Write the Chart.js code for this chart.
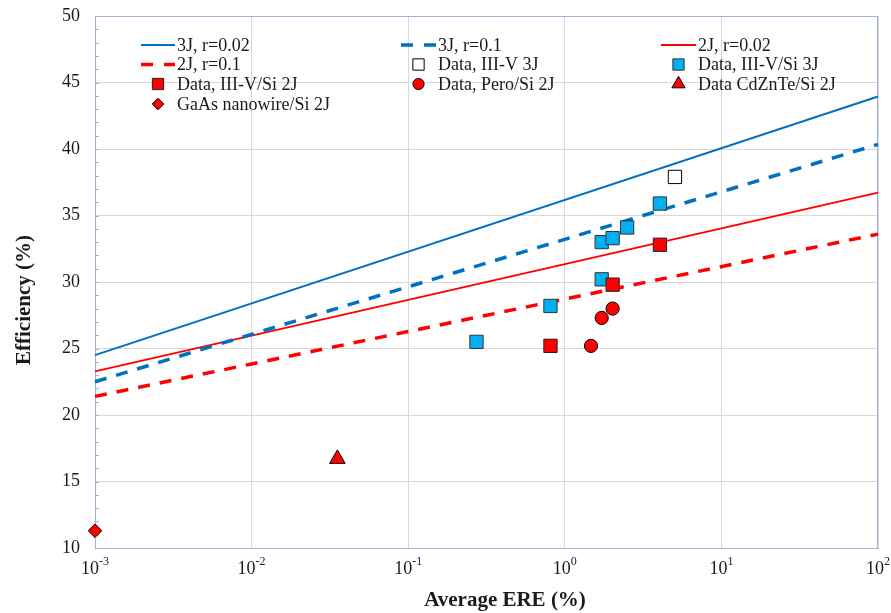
<!DOCTYPE html>
<html>
<head>
<meta charset="utf-8">
<script src="https://cdn.jsdelivr.net/npm/chart.js@4.4.1/dist/chart.umd.min.js"></script>
<style>
  html, body { margin: 0; padding: 0; background: #fff; }
  #wrap { width: 891px; height: 613px; position: relative; }
</style>
</head>
<body>
<div id="wrap"><canvas id="c" width="891" height="613"></canvas></div>
<script>
// Average ERE (%) on a log axis, efficiency (%) on a linear axis
const xDecades = [-3, -2, -1, 0, 1, 2];
const yTicks = [10, 15, 20, 25, 30, 35, 40, 45, 50];

// Modelled efficiency limits (end points at ERE = 1e-3 % and 1e2 %)
const modelEre = [0.001, 100];
const eff3J_r002 = [24.5, 43.95];
const eff3J_r01 = [22.5, 40.35];
const eff2J_r002 = [23.28, 36.72];
const eff2J_r01 = [21.4, 33.6];

// Measured devices
const iii_v_3J_ere = [5.05];
const iii_v_3J_eff = [37.9];
const iii_vSi_3J_ere = [0.273, 0.81, 1.72, 1.72, 2.02, 2.50, 4.05];
const iii_vSi_3J_eff = [25.5, 28.2, 30.2, 33.0, 33.3, 34.1, 35.9];
const iii_vSi_2J_ere = [0.81, 2.02, 4.05];
const iii_vSi_2J_eff = [25.2, 29.8, 32.8];
const peroSi_2J_ere = [1.47, 1.72, 2.02];
const peroSi_2J_eff = [25.2, 27.3, 28.0];
const cdZnTeSi_2J_ere = [0.0353];
const cdZnTeSi_2J_eff = [16.7];
const gaAsNwSi_2J_ere = [0.001];
const gaAsNwSi_2J_eff = [11.3];

const BLUE = '#0070c0';
const RED = '#ff0000';
const CYAN = '#00b0f0';
const AXIS = '#9db4d6';
const GRID = '#d9d9d9';
const TEXT = '#1a1a1a';
const FONT = '"Liberation Serif", "Times New Roman", serif';

const pts = (xs, ys) => xs.map((x, i) => ({ x: x, y: ys[i] }));

function lineSet(label, ys, color, dashed) {
  return {
    label, data: pts(modelEre, ys), showLine: true, borderColor: color,
    borderWidth: dashed ? 3.5 : 2, borderDash: dashed ? [12, 10] : [],
    pointRadius: 0, fill: false, order: 10, clip: false,
    legendKind: 'line'
  };
}
function markerSet(label, xs, ys, style, radius, fill, stroke) {
  return {
    label, data: pts(xs, ys), showLine: false, pointStyle: style,
    pointRadius: radius, pointHoverRadius: radius, backgroundColor: fill,
    borderColor: stroke, borderWidth: 1, order: 0, clip: false,
    legendKind: 'marker'
  };
}

const datasets = [
  lineSet('3J, r=0.02', eff3J_r002, BLUE, false),
  lineSet('3J, r=0.1', eff3J_r01, BLUE, true),
  lineSet('2J, r=0.02', eff2J_r002, RED, false),
  lineSet('2J, r=0.1', eff2J_r01, RED, true),
  markerSet('GaAs nanowire/Si 2J', gaAsNwSi_2J_ere, gaAsNwSi_2J_eff, 'rectRot', 6.8, RED, '#000'),
  markerSet('Data CdZnTe/Si 2J', cdZnTeSi_2J_ere, cdZnTeSi_2J_eff, 'triangle', 9, RED, '#000'),
  markerSet('Data, Pero/Si 2J', peroSi_2J_ere, peroSi_2J_eff, 'circle', 6.6, RED, '#000'),
  markerSet('Data, III-V/Si 2J', iii_vSi_2J_ere, iii_vSi_2J_eff, 'rect', 9.4, RED, '#222'),
  markerSet('Data, III-V/Si 3J', iii_vSi_3J_ere, iii_vSi_3J_eff, 'rect', 9.4, CYAN, '#333'),
  markerSet('Data, III-V 3J', iii_v_3J_ere, iii_v_3J_eff, 'rect', 9.4, '#ffffff', '#000')
];

// Legend grid: three columns, four rows, in reading order
const legendOrder = [
  '3J, r=0.02', '3J, r=0.1', '2J, r=0.02',
  '2J, r=0.1', 'Data, III-V 3J', 'Data, III-V/Si 3J',
  'Data, III-V/Si 2J', 'Data, Pero/Si 2J', 'Data CdZnTe/Si 2J',
  'GaAs nanowire/Si 2J'
];
const legendCols = [{ x0: 141, x1: 175 }, { x0: 401, x1: 436 }, { x0: 661, x1: 696 }];
const legendRows = [45, 64.5, 84, 104];

const frameAndLegend = {
  id: 'frameAndLegend',
  beforeDatasetsDraw(chart) {
    const { ctx, chartArea: a } = chart;
    const y = chart.scales.y;
    ctx.save();
    // minor ticks along the efficiency axis, pointing inward
    ctx.strokeStyle = AXIS;
    ctx.lineWidth = 1;
    ctx.beginPath();
    for (let v = y.min + 1; v < y.max; v++) {
      const py = Math.round(y.getPixelForValue(v)) + 0.5;
      ctx.moveTo(a.left, py);
      ctx.lineTo(a.left + 4, py);
    }
    ctx.stroke();
    // top and right edges of the plot frame
    ctx.beginPath();
    ctx.moveTo(a.left, a.top + 0.5);
    ctx.lineTo(a.right - 0.5, a.top + 0.5);
    ctx.lineTo(a.right - 0.5, a.bottom);
    ctx.stroke();
    ctx.restore();
  },
  afterDraw(chart) {
    const { ctx, chartArea: a } = chart;
    const x = chart.scales.x;
    ctx.save();
    ctx.fillStyle = TEXT;
    // decade labels with superscript exponents
    xDecades.forEach(e => {
      const px = x.getPixelForValue(Math.pow(10, e));
      const base = '10', sup = String(e);
      ctx.font = '18px ' + FONT;
      const wb = ctx.measureText(base).width;
      ctx.font = '12px ' + FONT;
      const ws = ctx.measureText(sup).width;
      const left = px - (wb + ws) / 2;
      ctx.textBaseline = 'alphabetic';
      ctx.textAlign = 'left';
      ctx.font = '18px ' + FONT;
      ctx.fillText(base, left, a.bottom + 26);
      ctx.font = '12px ' + FONT;
      ctx.fillText(sup, left + wb, a.bottom + 17);
    });
    // axis titles
    ctx.font = 'bold 21px ' + FONT;
    ctx.textAlign = 'center';
    ctx.textBaseline = 'middle';
    ctx.fillText('Average ERE (%)', 505, 601);
    ctx.save();
    ctx.translate(25, 300);
    ctx.rotate(-Math.PI / 2);
    ctx.fillText('Efficiency (%)', 0, 0);
    ctx.restore();

    // legend
    ctx.font = '18px ' + FONT;
    ctx.textAlign = 'left';
    ctx.textBaseline = 'middle';
    legendOrder.forEach((label, i) => {
      const ds = chart.data.datasets.find(d => d.label === label);
      const col = legendCols[i % 3];
      const ry = legendRows[Math.floor(i / 3)];
      if (ds.legendKind === 'line') {
        ctx.save();
        ctx.strokeStyle = ds.borderColor;
        ctx.lineWidth = ds.borderWidth;
        ctx.setLineDash(ds.borderDash.length ? [12, 11] : []);
        ctx.beginPath();
        ctx.moveTo(col.x0, ry);
        ctx.lineTo(col.x1, ry);
        ctx.stroke();
        ctx.restore();
      } else {
        ctx.save();
        ctx.fillStyle = ds.backgroundColor;
        ctx.strokeStyle = ds.borderColor;
        ctx.lineWidth = 1;
        Chart.helpers.drawPoint(ctx, {
          pointStyle: ds.pointStyle, radius: ds.pointRadius * 0.85,
          rotation: 0, borderWidth: 1
        }, (col.x0 + col.x1) / 2, ry);
        ctx.restore();
      }
      ctx.fillStyle = TEXT;
      ctx.fillText(label, col.x1 + 2, ry + 1);
    });
    ctx.restore();
  }
};

new Chart(document.getElementById('c'), {
  type: 'scatter',
  data: { datasets },
  options: {
    responsive: false,
    animation: false,
    devicePixelRatio: 1,
    layout: { padding: { left: 0, right: 13, top: 16, bottom: 0 } },
    plugins: { legend: { display: false }, tooltip: { enabled: false } },
    scales: {
      x: {
        type: 'logarithmic',
        min: 0.001, max: 100,
        afterBuildTicks: s => { s.ticks = xDecades.map(e => ({ value: Math.pow(10, e) })); },
        afterFit: s => { s.height = 65; s.paddingLeft = 0; s.paddingRight = 0; },
        ticks: { display: false },
        grid: { color: GRID, drawTicks: false },
        border: { color: AXIS, width: 1 }
      },
      y: {
        min: 10, max: 50,
        afterBuildTicks: s => { s.ticks = yTicks.map(v => ({ value: v })); },
        afterFit: s => { s.width = 95; s.paddingTop = 0; s.paddingBottom = 0; },
        ticks: { padding: 15, color: TEXT, font: { family: FONT, size: 18 } },
        grid: { color: GRID, drawTicks: false },
        border: { color: AXIS, width: 1 }
      }
    }
  },
  plugins: [frameAndLegend]
});
</script>
</body>
</html>
